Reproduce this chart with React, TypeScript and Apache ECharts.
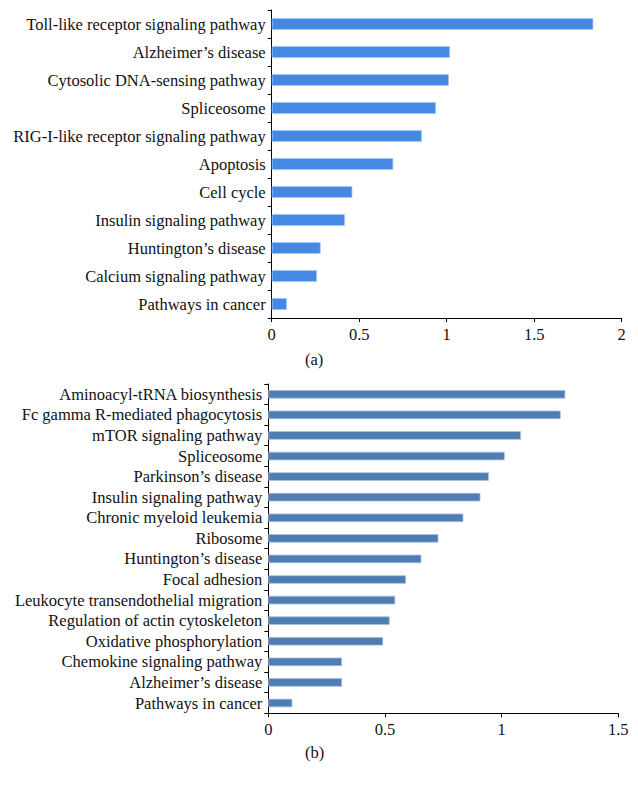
import React, { useEffect, useRef } from "react";
import * as echarts from "echarts";

const categoriesA = [
  "Toll-like receptor signaling pathway",
  "Alzheimer’s disease",
  "Cytosolic DNA-sensing pathway",
  "Spliceosome",
  "RIG-I-like receptor signaling pathway",
  "Apoptosis",
  "Cell cycle",
  "Insulin signaling pathway",
  "Huntington’s disease",
  "Calcium signaling pathway",
  "Pathways in cancer",
];
const valuesA = [1.838, 1.019, 1.013, 0.939, 0.859, 0.695, 0.461, 0.419, 0.28, 0.259, 0.087];

const categoriesB = [
  "Aminoacyl-tRNA biosynthesis",
  "Fc gamma R-mediated phagocytosis",
  "mTOR signaling pathway",
  "Spliceosome",
  "Parkinson’s disease",
  "Insulin signaling pathway",
  "Chronic myeloid leukemia",
  "Ribosome",
  "Huntington’s disease",
  "Focal adhesion",
  "Leukocyte transendothelial migration",
  "Regulation of actin cytoskeleton",
  "Oxidative phosphorylation",
  "Chemokine signaling pathway",
  "Alzheimer’s disease",
  "Pathways in cancer",
];
const valuesB = [1.273, 1.253, 1.083, 1.013, 0.945, 0.909, 0.836, 0.729, 0.656, 0.59, 0.544, 0.52, 0.492, 0.316, 0.316, 0.103];

const FONT = "Liberation Serif";

export default function App() {
  const ref = useRef<HTMLDivElement>(null);
  useEffect(() => {
    const chart = echarts.init(ref.current!, null, { renderer: "svg" });
    const axisLine = { show: true, lineStyle: { color: "#000", width: 1 } };
    const axisTick = { show: true, length: 4, lineStyle: { color: "#000", width: 1 } };
    const label = { color: "#111", fontFamily: FONT, fontSize: 16.5 };
    chart.setOption({
      animation: false,
      backgroundColor: "#fff",
      grid: [
        { left: 271.7, right: 16.3, top: 10, height: 308 },
        { left: 268.3, right: 19.7, top: 384, height: 329.3 },
      ],
      xAxis: [
        {
          gridIndex: 0, type: "value", min: 0, max: 2, interval: 0.5,
          axisLine, axisTick, splitLine: { show: false },
          axisLabel: { ...label, margin: 8 },
        },
        {
          gridIndex: 1, type: "value", min: 0, max: 1.5, interval: 0.5,
          axisLine, axisTick, splitLine: { show: false },
          axisLabel: { ...label, margin: 8 },
        },
      ],
      yAxis: [
        {
          gridIndex: 0, type: "category", data: categoriesA, inverse: true,
          axisLine, axisTick: { ...axisTick, interval: 0 },
          axisLabel: { ...label, margin: 6, interval: 0 },
        },
        {
          gridIndex: 1, type: "category", data: categoriesB, inverse: true,
          axisLine, axisTick: { ...axisTick, interval: 0 },
          axisLabel: { ...label, margin: 6, interval: 0, hideOverlap: false },
        },
      ],
      series: [
        {
          type: "bar", xAxisIndex: 0, yAxisIndex: 0, data: valuesA,
          barWidth: 12,
          itemStyle: { color: "#4689E4", borderColor: "#A9C9F2", borderWidth: 0.8 },
        },
        {
          type: "bar", xAxisIndex: 1, yAxisIndex: 1, data: valuesB,
          barWidth: 8.5,
          itemStyle: { color: "#4E7CB3", borderColor: "#A7BEDD", borderWidth: 0.8 },
        },
      ],
      graphic: [
        { type: "text", left: 305, top: 351, style: { text: "(a)", font: `16.5px "${FONT}"`, fill: "#111" } },
        { type: "text", left: 305, top: 744, style: { text: "(b)", font: `16.5px "${FONT}"`, fill: "#111" } },
      ],
    });
    return () => chart.dispose();
  }, []);
  return (
    <div
      ref={ref}
      style={{ position: "absolute", left: 0, top: 0, width: 638, height: 788 }}
    />
  );
}
